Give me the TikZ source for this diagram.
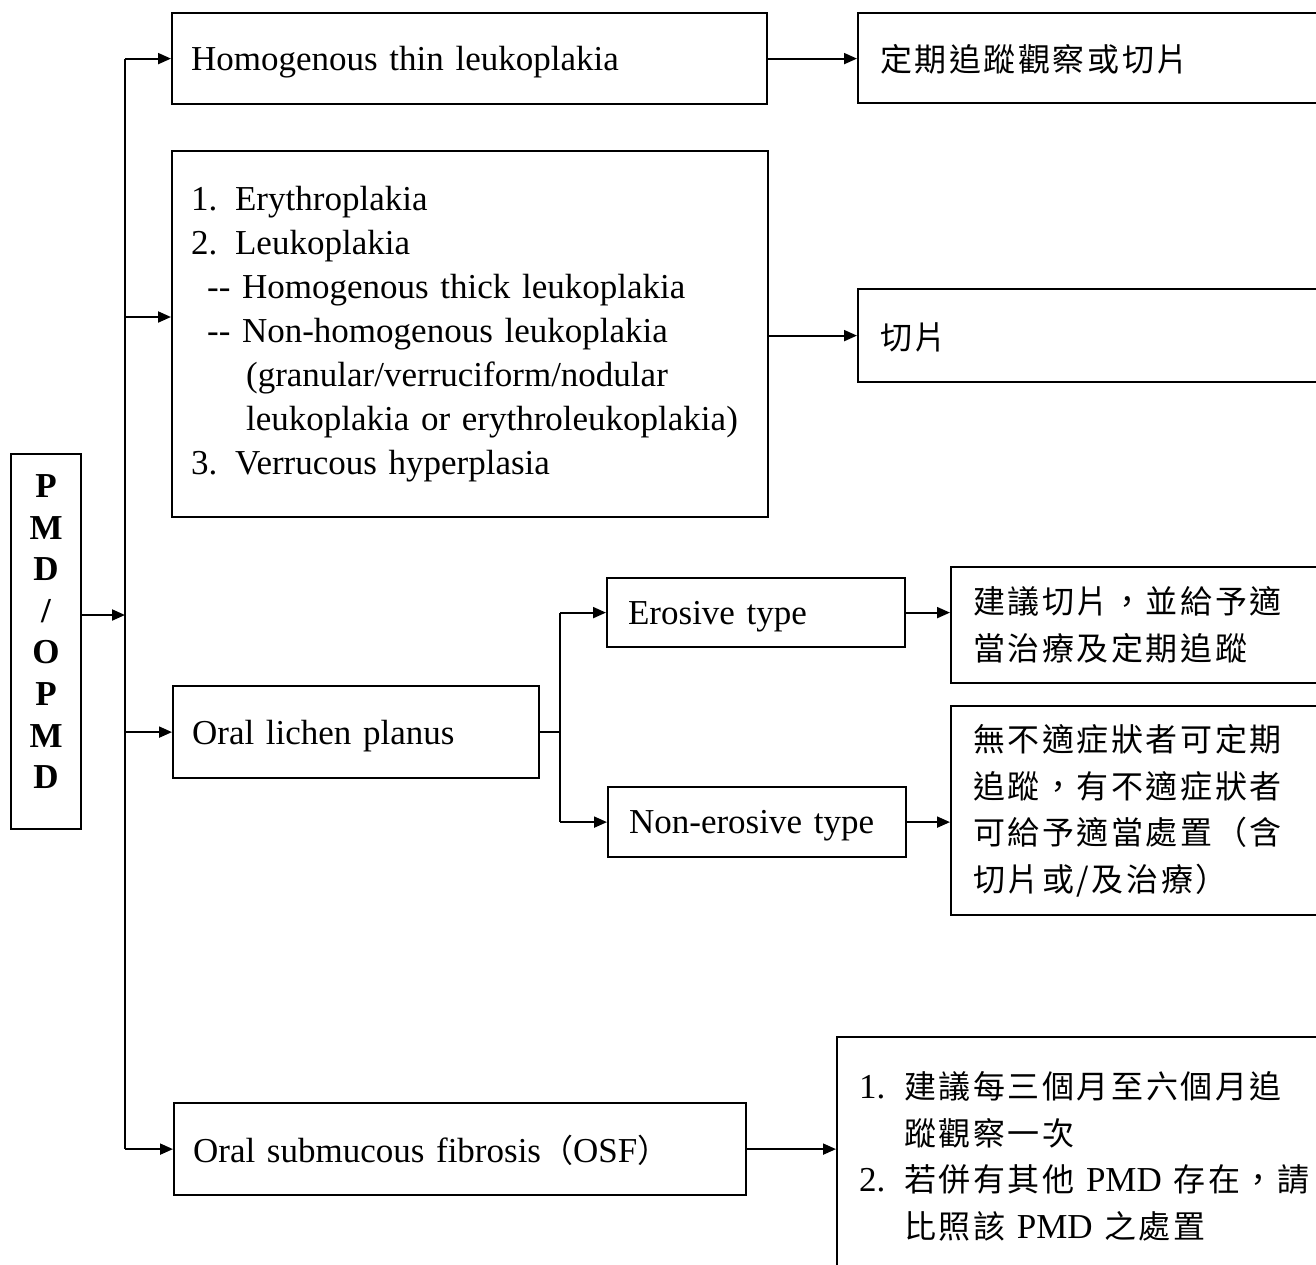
\documentclass[tikz,border=0pt]{standalone}
\usepackage{fontspec}
\setmainfont{Liberation Serif}
\newfontfamily\cjk[LetterSpace=8]{Noto Sans CJK TC}
\usetikzlibrary{arrows.meta}
\newcommand\zhs[1]{{\cjk\fontsize{32}{46.5}\selectfont #1}}
\begin{document}
\begin{tikzpicture}[x=1pt,y=-1pt,
  box/.style={draw, line width=2.2pt, rectangle, anchor=north west, inner xsep=19pt, inner ysep=0pt, align=left, font=\fontsize{35}{44}\selectfont},
  one/.style={text depth=0pt},
  zbox/.style={box, inner xsep=22pt, font=\fontsize{35}{46.5}\selectfont},
  ln/.style={line width=2pt},
  arr/.style={line width=2pt, -{Triangle[length=13pt,width=11pt]}}]
\useasboundingbox (0,0) rectangle (1316,1264);
\clip (0,0) rectangle (1316,1264);

% left main box
\node[draw, line width=2.2pt, anchor=north west, minimum width=70pt, minimum height=375pt, inner sep=0pt, align=center, text depth=20pt, font=\bfseries\fontsize{35}{41.6}\selectfont] (pmd) at (10,453) {P\\M\\D\\/\\O\\P\\M\\D};

% first column boxes
\node[box, one, text width=557pt, minimum height=91pt] (b1) at (171,12) {Homogenous thin leukoplakia};
\node[box, text width=558pt, minimum height=366pt] (b2) at (171,150) {%
\makebox[44pt][l]{1.}Erythroplakia\\
\makebox[44pt][l]{2.}Leukoplakia\\
\hspace*{16pt}\makebox[35pt][l]{-{}-}Homogenous thick leukoplakia\\
\hspace*{16pt}\makebox[35pt][l]{-{}-}Non-homogenous leukoplakia\\
\hspace*{55pt}(granular/verruciform/nodular\\
\hspace*{55pt}leukoplakia or erythroleukoplakia)\\
\makebox[44pt][l]{3.}Verrucous hyperplasia};
\node[box, one, text width=328pt, minimum height=92pt] (b3) at (172,685) {Oral lichen planus};
\node[box, one, text width=534pt, minimum height=92pt] (b4) at (173,1102) {Oral submucous fibrosis\zhs{（}OSF\zhs{）}};

% lichen sub-types
\node[box, one, inner xsep=21pt, text width=256pt, minimum height=69pt] (e1) at (606,577) {Erosive type};
\node[box, one, inner xsep=21pt, text width=256pt, minimum height=70pt] (e2) at (607,786) {Non-erosive type};

% right boxes
\node[zbox, one, text width=460pt, minimum height=90pt] (r1) at (857,12) {\zhs{定期追蹤觀察或切片}};
\node[zbox, one, text width=460pt, minimum height=93pt] (r2) at (857,288) {\zhs{切片}};
\node[zbox, text width=380pt, minimum height=116pt] (re1) at (950,566) {\zhs{建議切片，並給予適}\\\zhs{當治療及定期追蹤}};
\node[zbox, text width=380pt, minimum height=209pt] (re2) at (950,705) {\zhs{無不適症狀者可定期}\\\zhs{追蹤，有不適症狀者}\\\zhs{可給予適當處置（含}\\\zhs{切片或/及治療）}};
\node[zbox, text width=460pt, minimum height=238pt] (r4) at (836,1036) {%
\makebox[45pt][l]{1.}\zhs{建議每三個月至六個月追}\\
\hspace*{45pt}\zhs{蹤觀察一次}\\
\makebox[45pt][l]{2.}\zhs{若併有其他} PMD \zhs{存在，請}\\
\hspace*{45pt}\zhs{比照該} PMD \zhs{之處置}};

% connectors
\coordinate (t0) at (125,615);
\coordinate (j2) at (125,317);
\coordinate (jl) at (560,731);
\draw[arr] (pmd.east |- t0) -- (t0);
\draw[ln] (b1.west -| t0) -- (b4.west -| t0);
\draw[arr] (b1.west -| t0) -- (b1.west);
\draw[arr] (j2) -- (j2 -| b2.west);
\draw[arr] (b3.west -| t0) -- (b3.west);
\draw[arr] (b4.west -| t0) -- (b4.west);

\draw[arr] (b1.east) -- (b1.east -| r1.west);
\draw[arr] (r2.west -| b2.east) -- (r2.west);
\draw[ln] (b3.east) -- (b3.east -| jl);
\draw[ln] (jl |- e1.west) -- (jl |- e2.west);
\draw[arr] (jl |- e1.west) -- (e1.west);
\draw[arr] (jl |- e2.west) -- (e2.west);
\draw[arr] (e1.east) -- (e1.east -| re1.west);
\draw[arr] (e2.east) -- (e2.east -| re2.west);
\draw[arr] (b4.east) -- (b4.east -| r4.west);
\end{tikzpicture}
\end{document}
